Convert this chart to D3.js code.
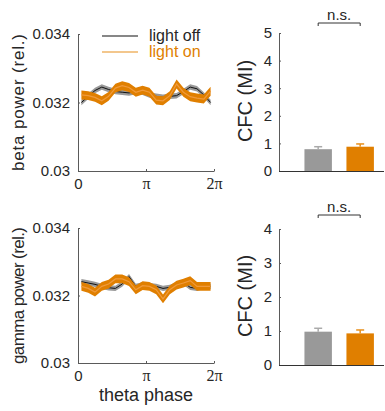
<!DOCTYPE html>
<html><head><meta charset="utf-8">
<script src="https://cdn.jsdelivr.net/npm/d3@7"></script>
<style>
html,body{margin:0;padding:0;background:#fff;}
svg{display:block;font-family:Arial,"Liberation Sans",sans-serif;}
</style></head>
<body><svg id="c" width="385" height="411"></svg>
<script>
// ---- data ----
const nBins = 20;
const phaseTickLabels = ["0", "π", "2π"];
const powerTicks = [0.03, 0.032, 0.034];
const betaOff   = [0.03200,0.03218,0.03235,0.03245,0.03238,0.03232,0.03230,0.03228,0.03232,0.03230,0.03222,0.03218,0.03215,0.03218,0.03220,0.03232,0.03245,0.03240,0.03222,0.03200];
const betaOffErr= [0.00008,0.00008,0.00008,0.00008,0.00008,0.00008,0.00008,0.00008,0.00008,0.00008,0.00008,0.00008,0.00008,0.00008,0.00008,0.00008,0.00008,0.00008,0.00008,0.00008];
const betaOn    = [0.03222,0.03220,0.03215,0.03205,0.03218,0.03242,0.03249,0.03244,0.03230,0.03236,0.03230,0.03207,0.03205,0.03220,0.03254,0.03230,0.03217,0.03213,0.03210,0.03233];
const betaOnErr = [0.00013,0.00013,0.00013,0.00013,0.00013,0.00013,0.00013,0.00013,0.00013,0.00013,0.00013,0.00013,0.00013,0.00013,0.00013,0.00013,0.00013,0.00013,0.00013,0.00013];
const gammaOff   = [0.03241,0.03237,0.03233,0.03227,0.03223,0.03221,0.03234,0.03256,0.03227,0.03231,0.03229,0.03227,0.03221,0.03224,0.03231,0.03239,0.03224,0.03221,0.03227,0.03227];
const gammaOffErr= [0.00008,0.00008,0.00008,0.00008,0.00008,0.00008,0.00008,0.00008,0.00008,0.00008,0.00008,0.00008,0.00008,0.00008,0.00008,0.00008,0.00008,0.00008,0.00008,0.00008];
const gammaOn    = [0.03227,0.03221,0.03210,0.03227,0.03234,0.03249,0.03249,0.03241,0.03217,0.03229,0.03227,0.03217,0.03190,0.03217,0.03231,0.03237,0.03244,0.03227,0.03227,0.03227];
const gammaOnErr = [0.00013,0.00013,0.00013,0.00013,0.00013,0.00013,0.00013,0.00013,0.00013,0.00013,0.00013,0.00013,0.00013,0.00013,0.00013,0.00013,0.00013,0.00013,0.00013,0.00013];
const conditions = ["light off", "light on"];
const betaCFC = [0.79, 0.88];
const betaCFCErr = [0.09, 0.10];
const gammaCFC = [0.98, 0.93];
const gammaCFCErr = [0.10, 0.10];
const betaCFCTicks = [0,1,2,3,4,5];
const gammaCFCTicks = [0,1,2,3,4];

// ---- styles ----
const ORANGE = "#e07f00", ORANGE_LINE = "#f09a3c", GRAY_BAND = "#999999", AXIS = "#5a5a5a", TXT = "#262626";
const svg = d3.select("#c");
const phases = d3.range(nBins).map(i => (i + 0.5) * 2 * Math.PI / nBins);

function linePanel(top, bottom, off, offErr, on, onErr, ylabel, showLegend, showXLabel) {
  const x = d3.scaleLinear().domain([0, 2*Math.PI]).range([78, 214]);
  const y = d3.scaleLinear().domain([0.03, 0.034]).range([bottom, top]);
  const g = svg.append("g");
  const area = (m, e) => d3.area().x((d,i)=>x(phases[i])).y0((d,i)=>y(m[i]-e[i])).y1((d,i)=>y(m[i]+e[i]))(m);
  const line = d3.line().x((d,i)=>x(phases[i])).y(d=>y(d));
  g.append("path").attr("d", area(off, offErr)).attr("fill", GRAY_BAND);
  g.append("path").attr("d", line(off)).attr("fill","none").attr("stroke","#111").attr("stroke-width",1);
  g.append("path").attr("d", area(on, onErr)).attr("fill", ORANGE);
  g.append("path").attr("d", line(on)).attr("fill","none").attr("stroke",ORANGE_LINE).attr("stroke-width",1.2);
  const ya = g.append("g").attr("transform","translate(78,0)")
    .call(d3.axisLeft(y).tickValues(powerTicks).tickFormat(d=>String(+d.toFixed(3))).tickSizeInner(-2).tickSizeOuter(0).tickPadding(8));
  ya.select(".domain").attr("stroke",AXIS);
  ya.selectAll(".tick line").attr("stroke",AXIS);
  ya.selectAll("text").attr("fill",TXT).style("font-size","15px").style("font-family","Arial, 'Liberation Sans', sans-serif");
  const xa = g.append("g").attr("transform",`translate(0,${bottom})`)
    .call(d3.axisBottom(x).tickValues([0, Math.PI, 2*Math.PI]).tickFormat((d,i)=>phaseTickLabels[i]).tickSizeInner(-2).tickSizeOuter(0).tickPadding(7));
  xa.select(".domain").attr("stroke",AXIS);
  xa.selectAll(".tick line").attr("stroke",AXIS);
  xa.selectAll("text").attr("fill",TXT).style("font-size","16px").style("font-family","'Liberation Serif','DejaVu Serif',serif");
  xa.selectAll(".tick").filter((d,i)=>i===0).select("text").style("font-family","Arial, 'Liberation Sans', sans-serif").style("font-size","15px");
  g.append("text").attr("transform",`translate(24,${(top+bottom)/2}) rotate(-90)`)
    .attr("text-anchor","middle").attr("fill",TXT).style("font-size","17px")
    .attr("textLength", ylabel.length > 18 ? 158 : 137).attr("lengthAdjust","spacing")
    .text(ylabel);
  if (showLegend) {
    const lg = svg.append("g");
    [["#111", TXT, 36], ["#e8901c", ORANGE, 52]].forEach((c,i)=>{
      lg.append("line").attr("x1",102).attr("x2",138).attr("y1",c[2]).attr("y2",c[2]).attr("stroke", c[0]).attr("stroke-width",1.2);
      lg.append("text").attr("x",149).attr("y",c[2]+5).attr("fill",c[1]).style("font-size","16px").text(conditions[i]);
    });
  }
  if (showXLabel) {
    g.append("text").attr("x",146).attr("y",401).attr("text-anchor","middle").attr("fill",TXT).style("font-size","18px").text("theta phase");
  }
}

function barPanel(top, bottom, vals, errs, ticks, nsY) {
  const x = d3.scaleLinear().domain([0, 2.6]).range([279, 384]);
  const y = d3.scaleLinear().domain([0, ticks[ticks.length-1]]).range([bottom, top]);
  const g = svg.append("g");
  const w = 0.68;
  const cols = ["#999999", ORANGE];
  const ecols = ["#aaaaaa", "#e8901c"];
  vals.forEach((v,i)=>{
    const cx = i + 0.97 + i*0.04;
    g.append("rect").attr("x", x(cx - w/2)).attr("width", x(cx + w/2) - x(cx - w/2))
      .attr("y", y(v)).attr("height", y(0) - y(v)).attr("fill", cols[i]);
    g.append("line").attr("x1",x(cx)).attr("x2",x(cx)).attr("y1",y(v)).attr("y2",y(v+errs[i])).attr("stroke",ecols[i]).attr("stroke-width",1.5);
    g.append("line").attr("x1",x(cx)-4).attr("x2",x(cx)+4).attr("y1",y(v+errs[i])).attr("y2",y(v+errs[i])).attr("stroke",ecols[i]).attr("stroke-width",1.5);
  });
  const ya = g.append("g").attr("transform","translate(279,0)")
    .call(d3.axisLeft(y).tickValues(ticks).tickFormat(d3.format("d")).tickSizeInner(-2).tickSizeOuter(0).tickPadding(7));
  ya.select(".domain").attr("stroke",AXIS);
  ya.selectAll(".tick line").attr("stroke",AXIS);
  ya.selectAll("text").attr("fill",TXT).style("font-size","15px").style("font-family","Arial, 'Liberation Sans', sans-serif");
  g.append("line").attr("x1",279).attr("x2",384).attr("y1",bottom+0.5).attr("y2",bottom+0.5).attr("stroke","#333").attr("stroke-width",1.2);
  g.append("text").attr("transform",`translate(252,${(top+bottom)/2 - 1}) rotate(-90)`)
    .attr("text-anchor","middle").attr("fill",TXT).style("font-size","20px").text("CFC (MI)");
  const x1 = x(0.97), x2 = x(2.01);
  g.append("path").attr("d",`M${x1},${nsY+3}V${nsY}H${x2}V${nsY+3}`).attr("fill","none").attr("stroke","#333").attr("stroke-width",1);
  g.append("text").attr("x",(x1+x2)/2).attr("y",nsY-3).attr("text-anchor","middle").attr("fill",TXT).style("font-size","15px").text("n.s.");
}

linePanel(34, 171, betaOff, betaOffErr, betaOn, betaOnErr, "beta power (rel.)", true, false);
linePanel(228, 363, gammaOff, gammaOffErr, gammaOn, gammaOnErr, "gamma power (rel.)", false, true);
barPanel(33, 171, betaCFC, betaCFCErr, betaCFCTicks, 23);
barPanel(229, 365, gammaCFC, gammaCFCErr, gammaCFCTicks, 215);
</script></body></html>
